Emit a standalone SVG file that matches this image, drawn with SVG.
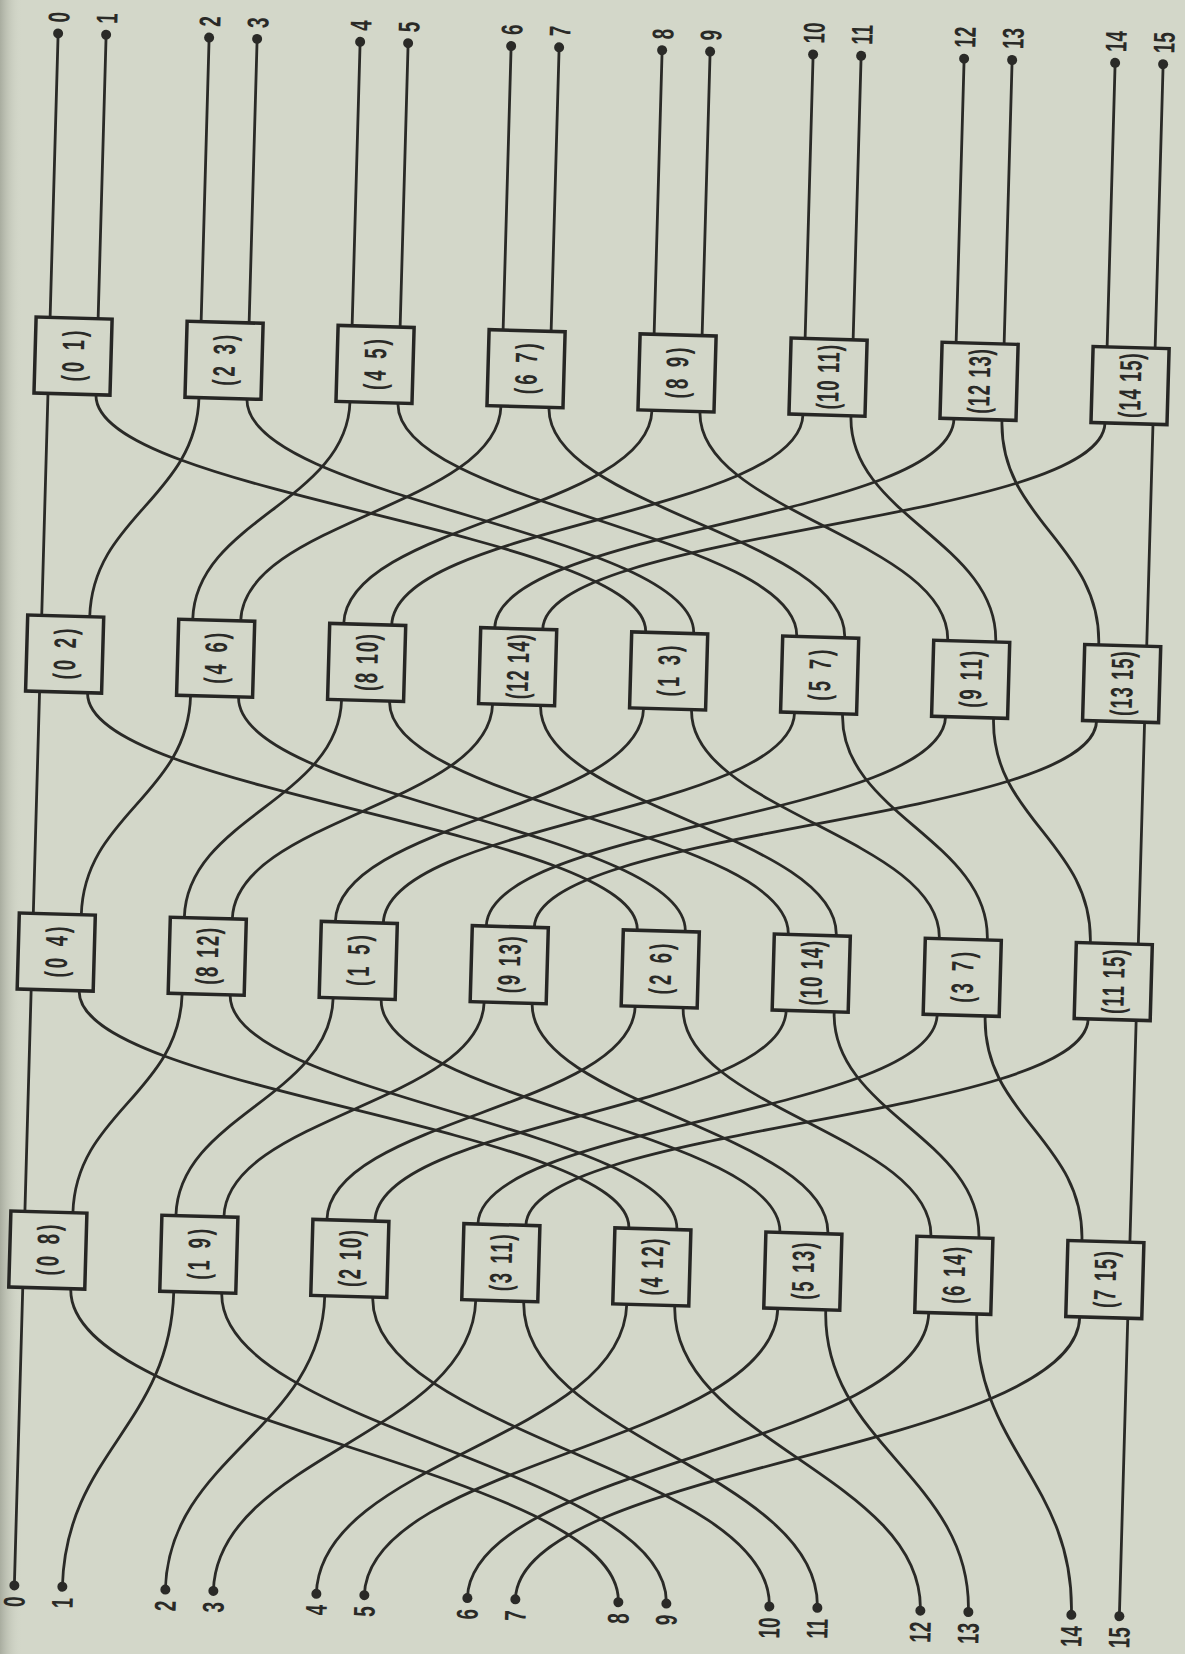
<svg xmlns="http://www.w3.org/2000/svg" width="1185" height="1654" viewBox="0 0 1185 1654">
<defs>
<style>
.w{fill:none;stroke:#2a2a27;stroke-width:2.8;stroke-linecap:round}
.box{fill:#d3d7c9;stroke:#262624;stroke-width:3.5}
.dot{fill:#2a2a27}
.lb{font-family:"Liberation Sans",Arial,sans-serif;font-weight:bold;font-size:30px;fill:#2a2a27;dominant-baseline:central}
.top{text-anchor:start}
.bot{text-anchor:end}
.bt{font-family:"Liberation Sans",Arial,sans-serif;font-weight:bold;font-size:31px;fill:#2a2a27;text-anchor:middle;dominant-baseline:central}
</style>
<linearGradient id="edge" x1="0" y1="0" x2="1" y2="0">
<stop offset="0" stop-color="#9ea295" stop-opacity="0.8"/>
<stop offset="1" stop-color="#d3d7c9" stop-opacity="0"/>
</linearGradient>
</defs>
<rect width="1185" height="1654" fill="#d3d7c9"/>
<rect x="0" y="0" width="22" height="1654" fill="url(#edge)"/>
<g transform="matrix(1 0.0279 -0.0282 1 73.05 356.05)">
<g id="connectors">
<path class="w" d="M-24 -322V-38M24 -322V-38M127 -322V-38M175 -322V-38M278 -322V-38M326 -322V-38M429 -322V-38M477 -322V-38M580 -322V-38M628 -322V-38M731 -322V-38M779 -322V-38M882 -322V-38M930 -322V-38M1033 -322V-38M1081 -322V-38"/>
<path class="w" d="M-24 38V260"/>
<path class="w" d="M127 38C127 138 24 160 24 260"/>
<path class="w" d="M278 38C278 138 127 160 127 260"/>
<path class="w" d="M429 38C429 138 175 160 175 260"/>
<path class="w" d="M580 38C580 138 278 160 278 260"/>
<path class="w" d="M731 38C731 138 326 160 326 260"/>
<path class="w" d="M882 38C882 138 429 160 429 260"/>
<path class="w" d="M1033 38C1033 138 477 160 477 260"/>
<path class="w" d="M24 38C24 138 580 160 580 260"/>
<path class="w" d="M175 38C175 138 628 160 628 260"/>
<path class="w" d="M326 38C326 138 731 160 731 260"/>
<path class="w" d="M477 38C477 138 779 160 779 260"/>
<path class="w" d="M628 38C628 138 882 160 882 260"/>
<path class="w" d="M779 38C779 138 930 160 930 260"/>
<path class="w" d="M930 38C930 138 1033 160 1033 260"/>
<path class="w" d="M1081 38V260"/>
<path class="w" d="M-24 336V558"/>
<path class="w" d="M127 336C127 436 24 458 24 558"/>
<path class="w" d="M278 336C278 436 127 458 127 558"/>
<path class="w" d="M429 336C429 436 175 458 175 558"/>
<path class="w" d="M580 336C580 436 278 458 278 558"/>
<path class="w" d="M731 336C731 436 326 458 326 558"/>
<path class="w" d="M882 336C882 436 429 458 429 558"/>
<path class="w" d="M1033 336C1033 436 477 458 477 558"/>
<path class="w" d="M24 336C24 436 580 458 580 558"/>
<path class="w" d="M175 336C175 436 628 458 628 558"/>
<path class="w" d="M326 336C326 436 731 458 731 558"/>
<path class="w" d="M477 336C477 436 779 458 779 558"/>
<path class="w" d="M628 336C628 436 882 458 882 558"/>
<path class="w" d="M779 336C779 436 930 458 930 558"/>
<path class="w" d="M930 336C930 436 1033 458 1033 558"/>
<path class="w" d="M1081 336V558"/>
<path class="w" d="M-24 634V856"/>
<path class="w" d="M127 634C127 734 24 756 24 856"/>
<path class="w" d="M278 634C278 734 127 756 127 856"/>
<path class="w" d="M429 634C429 734 175 756 175 856"/>
<path class="w" d="M580 634C580 734 278 756 278 856"/>
<path class="w" d="M731 634C731 734 326 756 326 856"/>
<path class="w" d="M882 634C882 734 429 756 429 856"/>
<path class="w" d="M1033 634C1033 734 477 756 477 856"/>
<path class="w" d="M24 634C24 734 580 756 580 856"/>
<path class="w" d="M175 634C175 734 628 756 628 856"/>
<path class="w" d="M326 634C326 734 731 756 731 856"/>
<path class="w" d="M477 634C477 734 779 756 779 856"/>
<path class="w" d="M628 634C628 734 882 756 882 856"/>
<path class="w" d="M779 634C779 734 930 756 930 856"/>
<path class="w" d="M930 634C930 734 1033 756 1033 856"/>
<path class="w" d="M1081 634V856"/>
<path class="w" d="M-24 932V1230"/>
<path class="w" d="M127 932C127 1066 24 1096 24 1230"/>
<path class="w" d="M278 932C278 1066 127 1096 127 1230"/>
<path class="w" d="M429 932C429 1066 175 1096 175 1230"/>
<path class="w" d="M580 932C580 1066 278 1096 278 1230"/>
<path class="w" d="M731 932C731 1066 326 1096 326 1230"/>
<path class="w" d="M882 932C882 1066 429 1096 429 1230"/>
<path class="w" d="M1033 932C1033 1066 477 1096 477 1230"/>
<path class="w" d="M24 932C24 1066 580 1096 580 1230"/>
<path class="w" d="M175 932C175 1066 628 1096 628 1230"/>
<path class="w" d="M326 932C326 1066 731 1096 731 1230"/>
<path class="w" d="M477 932C477 1066 779 1096 779 1230"/>
<path class="w" d="M628 932C628 1066 882 1096 882 1230"/>
<path class="w" d="M779 932C779 1066 930 1096 930 1230"/>
<path class="w" d="M930 932C930 1066 1033 1096 1033 1230"/>
<path class="w" d="M1081 932V1230"/>
</g>
<g id="out-0"><circle class="dot" cx="-24" cy="-322" r="5"/><text class="lb top" transform="translate(-24,-333) rotate(-90) scale(0.63,1)">0</text></g>
<g id="out-1"><circle class="dot" cx="24" cy="-322" r="5"/><text class="lb top" transform="translate(24,-333) rotate(-90) scale(0.63,1)">1</text></g>
<g id="out-2"><circle class="dot" cx="127" cy="-322" r="5"/><text class="lb top" transform="translate(127,-333) rotate(-90) scale(0.63,1)">2</text></g>
<g id="out-3"><circle class="dot" cx="175" cy="-322" r="5"/><text class="lb top" transform="translate(175,-333) rotate(-90) scale(0.63,1)">3</text></g>
<g id="out-4"><circle class="dot" cx="278" cy="-322" r="5"/><text class="lb top" transform="translate(278,-333) rotate(-90) scale(0.63,1)">4</text></g>
<g id="out-5"><circle class="dot" cx="326" cy="-322" r="5"/><text class="lb top" transform="translate(326,-333) rotate(-90) scale(0.63,1)">5</text></g>
<g id="out-6"><circle class="dot" cx="429" cy="-322" r="5"/><text class="lb top" transform="translate(429,-333) rotate(-90) scale(0.63,1)">6</text></g>
<g id="out-7"><circle class="dot" cx="477" cy="-322" r="5"/><text class="lb top" transform="translate(477,-333) rotate(-90) scale(0.63,1)">7</text></g>
<g id="out-8"><circle class="dot" cx="580" cy="-322" r="5"/><text class="lb top" transform="translate(580,-333) rotate(-90) scale(0.63,1)">8</text></g>
<g id="out-9"><circle class="dot" cx="628" cy="-322" r="5"/><text class="lb top" transform="translate(628,-333) rotate(-90) scale(0.63,1)">9</text></g>
<g id="out-10"><circle class="dot" cx="731" cy="-322" r="5"/><text class="lb top" transform="translate(731,-333) rotate(-90) scale(0.63,1)">10</text></g>
<g id="out-11"><circle class="dot" cx="779" cy="-322" r="5"/><text class="lb top" transform="translate(779,-333) rotate(-90) scale(0.63,1)">11</text></g>
<g id="out-12"><circle class="dot" cx="882" cy="-322" r="5"/><text class="lb top" transform="translate(882,-333) rotate(-90) scale(0.63,1)">12</text></g>
<g id="out-13"><circle class="dot" cx="930" cy="-322" r="5"/><text class="lb top" transform="translate(930,-333) rotate(-90) scale(0.63,1)">13</text></g>
<g id="out-14"><circle class="dot" cx="1033" cy="-322" r="5"/><text class="lb top" transform="translate(1033,-333) rotate(-90) scale(0.63,1)">14</text></g>
<g id="out-15"><circle class="dot" cx="1081" cy="-322" r="5"/><text class="lb top" transform="translate(1081,-333) rotate(-90) scale(0.63,1)">15</text></g>
<g id="in-0"><circle class="dot" cx="-24" cy="1230" r="5"/><text class="lb bot" transform="translate(-24,1241) rotate(-90) scale(0.63,1)">0</text></g>
<g id="in-1"><circle class="dot" cx="24" cy="1230" r="5"/><text class="lb bot" transform="translate(24,1241) rotate(-90) scale(0.63,1)">1</text></g>
<g id="in-2"><circle class="dot" cx="127" cy="1230" r="5"/><text class="lb bot" transform="translate(127,1241) rotate(-90) scale(0.63,1)">2</text></g>
<g id="in-3"><circle class="dot" cx="175" cy="1230" r="5"/><text class="lb bot" transform="translate(175,1241) rotate(-90) scale(0.63,1)">3</text></g>
<g id="in-4"><circle class="dot" cx="278" cy="1230" r="5"/><text class="lb bot" transform="translate(278,1241) rotate(-90) scale(0.63,1)">4</text></g>
<g id="in-5"><circle class="dot" cx="326" cy="1230" r="5"/><text class="lb bot" transform="translate(326,1241) rotate(-90) scale(0.63,1)">5</text></g>
<g id="in-6"><circle class="dot" cx="429" cy="1230" r="5"/><text class="lb bot" transform="translate(429,1241) rotate(-90) scale(0.63,1)">6</text></g>
<g id="in-7"><circle class="dot" cx="477" cy="1230" r="5"/><text class="lb bot" transform="translate(477,1241) rotate(-90) scale(0.63,1)">7</text></g>
<g id="in-8"><circle class="dot" cx="580" cy="1230" r="5"/><text class="lb bot" transform="translate(580,1241) rotate(-90) scale(0.63,1)">8</text></g>
<g id="in-9"><circle class="dot" cx="628" cy="1230" r="5"/><text class="lb bot" transform="translate(628,1241) rotate(-90) scale(0.63,1)">9</text></g>
<g id="in-10"><circle class="dot" cx="731" cy="1230" r="5"/><text class="lb bot" transform="translate(731,1241) rotate(-90) scale(0.63,1)">10</text></g>
<g id="in-11"><circle class="dot" cx="779" cy="1230" r="5"/><text class="lb bot" transform="translate(779,1241) rotate(-90) scale(0.63,1)">11</text></g>
<g id="in-12"><circle class="dot" cx="882" cy="1230" r="5"/><text class="lb bot" transform="translate(882,1241) rotate(-90) scale(0.63,1)">12</text></g>
<g id="in-13"><circle class="dot" cx="930" cy="1230" r="5"/><text class="lb bot" transform="translate(930,1241) rotate(-90) scale(0.63,1)">13</text></g>
<g id="in-14"><circle class="dot" cx="1033" cy="1230" r="5"/><text class="lb bot" transform="translate(1033,1241) rotate(-90) scale(0.63,1)">14</text></g>
<g id="in-15"><circle class="dot" cx="1081" cy="1230" r="5"/><text class="lb bot" transform="translate(1081,1241) rotate(-90) scale(0.63,1)">15</text></g>
<g id="s4-0"><rect class="box" x="-38" y="-38" width="76" height="76"/><text class="bt" transform="translate(0,0) rotate(-90) scale(0.6,1)" textLength="85" lengthAdjust="spacing">(0 1)</text></g>
<g id="s4-1"><rect class="box" x="113" y="-38" width="76" height="76"/><text class="bt" transform="translate(151,0) rotate(-90) scale(0.6,1)" textLength="85" lengthAdjust="spacing">(2 3)</text></g>
<g id="s4-2"><rect class="box" x="264" y="-38" width="76" height="76"/><text class="bt" transform="translate(302,0) rotate(-90) scale(0.6,1)" textLength="85" lengthAdjust="spacing">(4 5)</text></g>
<g id="s4-3"><rect class="box" x="415" y="-38" width="76" height="76"/><text class="bt" transform="translate(453,0) rotate(-90) scale(0.6,1)" textLength="85" lengthAdjust="spacing">(6 7)</text></g>
<g id="s4-4"><rect class="box" x="566" y="-38" width="76" height="76"/><text class="bt" transform="translate(604,0) rotate(-90) scale(0.6,1)" textLength="85" lengthAdjust="spacing">(8 9)</text></g>
<g id="s4-5"><rect class="box" x="717" y="-38" width="76" height="76"/><text class="bt" transform="translate(755,0) rotate(-90) scale(0.6,1)" textLength="108" lengthAdjust="spacing">(10 11)</text></g>
<g id="s4-6"><rect class="box" x="868" y="-38" width="76" height="76"/><text class="bt" transform="translate(906,0) rotate(-90) scale(0.6,1)" textLength="108" lengthAdjust="spacing">(12 13)</text></g>
<g id="s4-7"><rect class="box" x="1019" y="-38" width="76" height="76"/><text class="bt" transform="translate(1057,0) rotate(-90) scale(0.6,1)" textLength="108" lengthAdjust="spacing">(14 15)</text></g>
<g id="s3-0"><rect class="box" x="-38" y="260" width="76" height="76"/><text class="bt" transform="translate(0,298) rotate(-90) scale(0.6,1)" textLength="85" lengthAdjust="spacing">(0 2)</text></g>
<g id="s3-1"><rect class="box" x="113" y="260" width="76" height="76"/><text class="bt" transform="translate(151,298) rotate(-90) scale(0.6,1)" textLength="85" lengthAdjust="spacing">(4 6)</text></g>
<g id="s3-2"><rect class="box" x="264" y="260" width="76" height="76"/><text class="bt" transform="translate(302,298) rotate(-90) scale(0.6,1)" textLength="95" lengthAdjust="spacing">(8 10)</text></g>
<g id="s3-3"><rect class="box" x="415" y="260" width="76" height="76"/><text class="bt" transform="translate(453,298) rotate(-90) scale(0.6,1)" textLength="108" lengthAdjust="spacing">(12 14)</text></g>
<g id="s3-4"><rect class="box" x="566" y="260" width="76" height="76"/><text class="bt" transform="translate(604,298) rotate(-90) scale(0.6,1)" textLength="85" lengthAdjust="spacing">(1 3)</text></g>
<g id="s3-5"><rect class="box" x="717" y="260" width="76" height="76"/><text class="bt" transform="translate(755,298) rotate(-90) scale(0.6,1)" textLength="85" lengthAdjust="spacing">(5 7)</text></g>
<g id="s3-6"><rect class="box" x="868" y="260" width="76" height="76"/><text class="bt" transform="translate(906,298) rotate(-90) scale(0.6,1)" textLength="95" lengthAdjust="spacing">(9 11)</text></g>
<g id="s3-7"><rect class="box" x="1019" y="260" width="76" height="76"/><text class="bt" transform="translate(1057,298) rotate(-90) scale(0.6,1)" textLength="108" lengthAdjust="spacing">(13 15)</text></g>
<g id="s2-0"><rect class="box" x="-38" y="558" width="76" height="76"/><text class="bt" transform="translate(0,596) rotate(-90) scale(0.6,1)" textLength="85" lengthAdjust="spacing">(0 4)</text></g>
<g id="s2-1"><rect class="box" x="113" y="558" width="76" height="76"/><text class="bt" transform="translate(151,596) rotate(-90) scale(0.6,1)" textLength="95" lengthAdjust="spacing">(8 12)</text></g>
<g id="s2-2"><rect class="box" x="264" y="558" width="76" height="76"/><text class="bt" transform="translate(302,596) rotate(-90) scale(0.6,1)" textLength="85" lengthAdjust="spacing">(1 5)</text></g>
<g id="s2-3"><rect class="box" x="415" y="558" width="76" height="76"/><text class="bt" transform="translate(453,596) rotate(-90) scale(0.6,1)" textLength="95" lengthAdjust="spacing">(9 13)</text></g>
<g id="s2-4"><rect class="box" x="566" y="558" width="76" height="76"/><text class="bt" transform="translate(604,596) rotate(-90) scale(0.6,1)" textLength="85" lengthAdjust="spacing">(2 6)</text></g>
<g id="s2-5"><rect class="box" x="717" y="558" width="76" height="76"/><text class="bt" transform="translate(755,596) rotate(-90) scale(0.6,1)" textLength="108" lengthAdjust="spacing">(10 14)</text></g>
<g id="s2-6"><rect class="box" x="868" y="558" width="76" height="76"/><text class="bt" transform="translate(906,596) rotate(-90) scale(0.6,1)" textLength="85" lengthAdjust="spacing">(3 7)</text></g>
<g id="s2-7"><rect class="box" x="1019" y="558" width="76" height="76"/><text class="bt" transform="translate(1057,596) rotate(-90) scale(0.6,1)" textLength="108" lengthAdjust="spacing">(11 15)</text></g>
<g id="s1-0"><rect class="box" x="-38" y="856" width="76" height="76"/><text class="bt" transform="translate(0,894) rotate(-90) scale(0.6,1)" textLength="85" lengthAdjust="spacing">(0 8)</text></g>
<g id="s1-1"><rect class="box" x="113" y="856" width="76" height="76"/><text class="bt" transform="translate(151,894) rotate(-90) scale(0.6,1)" textLength="85" lengthAdjust="spacing">(1 9)</text></g>
<g id="s1-2"><rect class="box" x="264" y="856" width="76" height="76"/><text class="bt" transform="translate(302,894) rotate(-90) scale(0.6,1)" textLength="95" lengthAdjust="spacing">(2 10)</text></g>
<g id="s1-3"><rect class="box" x="415" y="856" width="76" height="76"/><text class="bt" transform="translate(453,894) rotate(-90) scale(0.6,1)" textLength="95" lengthAdjust="spacing">(3 11)</text></g>
<g id="s1-4"><rect class="box" x="566" y="856" width="76" height="76"/><text class="bt" transform="translate(604,894) rotate(-90) scale(0.6,1)" textLength="95" lengthAdjust="spacing">(4 12)</text></g>
<g id="s1-5"><rect class="box" x="717" y="856" width="76" height="76"/><text class="bt" transform="translate(755,894) rotate(-90) scale(0.6,1)" textLength="95" lengthAdjust="spacing">(5 13)</text></g>
<g id="s1-6"><rect class="box" x="868" y="856" width="76" height="76"/><text class="bt" transform="translate(906,894) rotate(-90) scale(0.6,1)" textLength="95" lengthAdjust="spacing">(6 14)</text></g>
<g id="s1-7"><rect class="box" x="1019" y="856" width="76" height="76"/><text class="bt" transform="translate(1057,894) rotate(-90) scale(0.6,1)" textLength="95" lengthAdjust="spacing">(7 15)</text></g>
</g>
</svg>
